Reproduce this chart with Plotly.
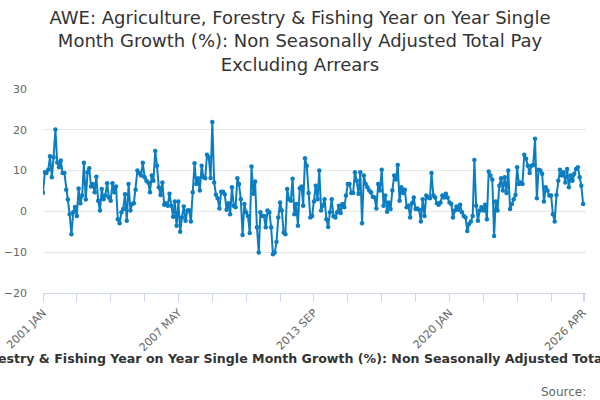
import pandas as pd
import plotly.graph_objects as go

title_text = ("AWE: Agriculture, Forestry & Fishing Year on Year Single<br>"
              "Month Growth (%): Non Seasonally Adjusted Total Pay<br>"
              "Excluding Arrears")
series_name = ("AWE: Agriculture, Forestry & Fishing Year on Year Single Month Growth (%): "
               "Non Seasonally Adjusted Total Pay Excluding Arrears")
start_month = "2001-01-01"

values_2001_2005 = [4.6, 9.6, 9.4, 10.2, 13.5, 8.4, 13.3, 20.1, 12, 10.8, 12.5, 9.4, 9.4, 5.3, 2.9,
                    -0.7, -5.6, -0.2, 1.1, -1.1, 5.6, 2, 3.9, 11.9, 2.9, 9.6, 10.6, 6.1, 6.7, 4.7,
                    8.5, 2.6, 0.2, 5.5, 3, 3.9, 6.9, 3.4, 2.6, 6.9, 4.7, 6.1, -1.9, -2.9, -0.2,
                    0.6, 4.2, -2.3, 6.7]
values_2005_2009 = [0.2, 1.8, 2, 5.3, 10, 9.4, 8.8, 11.9, 8.4, 7.5, 7.1, 4.7, 8.8, 7.5, 14.8, 11.2,
                    5.9, 4, 7.1, 1.6, 2, 1.4, 4.3, 1.4, -1.3, 2.4, -3.5, 2.4, -5, -1.5, 1.2, -2.3,
                    0.2, 0.3, -2.5, 4.7, 11.8, 6.7, 8.1, 5.1, 11.2, 8.4, 8.1, 13.9, 13.3, 8.2,
                    21.9, 7.1, 4.1, 3.2, 0.7]
values_2009_2013 = [4.8, 4.8, 4.2, 0.4, 2.0, -0.7, 5.9, 1.4, 1.0, 8.1, 6.7, 3.0, -5.8, 1.8, -0.2,
                    -1.1, -5.3, 11.0, 4.3, 7.3, -3.9, -10.1, -0.2, -1.1, -1.1, -3.9, 0.2, -0.2,
                    -3.9, -10.5, -10.1, -7.5, -1.5, 2.2, 0.2, -5.2, -5.6, 5.5, 3.0, 2.6, 8.0,
                    -0.7, 1.8, -3.5, 5.7, 6.1, 1.4, 13.0, 11.2, 4.5, -1.5, -1.1, 2.4]
values_2013_2017 = [6.3, 3.0, 10.0, 0.2, 1.4, 3.0, -1.9, -3.8, -0.2, 3.0, -1.2, -1.5, -0.2, 1.4,
                    -0.4, 1.8, 1.0, 3.9, 6.7, 6.7, 4.5, 4.5, 9.6, 7.5, 4.3, 9.6, -2.9, 8.8, 6.7,
                    5.9, 5.1, 4.7, 3.6, 3.4, 0.7, 6.7, 5.1, 10.2, 1.4, 3.9, -0.1, 2.2, 0.6, 5.1,
                    8.8, 7.8, 11.4, 2.6, 5.9, 4.5, 5.3]
values_2018_2022 = [1.0, 1.4, -1.5, 2.0, 3.4, 0.6, 0.7, 0.4, -2.5, 3.0, -1.1, 3.9, 3.4, 3.2, 9.4,
                    3.9, 3.4, 2.0, 1.6, 2.2, 3.9, 3.4, 4.3, 3.4, 2.2, 1.8, -1.5, 0.2, 1.2, 0.4,
                    1.6, -0.2, -1.1, -1.5, -4.8, -3.1, -2.5, -1.1, 12.6, 1.4, -2.3, 0.2, 1.0, 0.2,
                    1.6, -1.9, 9.8, 8.8, 7.8, -6.0]
values_2022_2026 = [2.4, 0.2, 6.3, 8.1, 5.1, 8.4, 4.5, 10.0, 0.6, 1.8, 3.0, 4.0, 10.8, 6.7, 7.1,
                    6.7, 13.9, 12.9, 11.2, 9.4, 11.2, 11.4, 17.8, 3.2, 10.2, 10.0, 9.2, 2.4, 5.9,
                    5.1, 3.9, 3.9, -0.7, -2.5, 4.0, 7.5, 10.2, 8.8, 9.6, 7.1, 10.4, 5.9, 8.8, 7.5,
                    9.2, 10.4, 10.8, 8.4, 6.3, 1.8]

values = (values_2001_2005 + values_2005_2009 + values_2009_2013 +
          values_2013_2017 + values_2018_2022 + values_2022_2026)
months = pd.date_range(start_month, periods=len(values), freq="MS")

label_idx = [0, 76, 152, 228, len(values) - 1]
tick_vals = [months[i] for i in label_idx]
tick_text = [months[i].strftime("%Y %b").upper() for i in label_idx]

y_ticks = [-20, -10, 0, 10, 20, 30]

color = "#0b7dc1"
fig = go.Figure()
fig.add_trace(go.Scatter(
    x=months, y=values, mode="lines+markers",
    line=dict(color=color, width=2),
    marker=dict(color=color, size=4.5),
    name=series_name, showlegend=False,
))

fig.update_layout(
    width=600, height=400,
    margin=dict(l=43, r=14, t=89, b=107),
    paper_bgcolor="white", plot_bgcolor="white",
    font=dict(family="DejaVu Sans", color="#666666"),
    title=dict(text=title_text, x=0.5, xanchor="center", xref="container",
               y=0.94, yanchor="top", yref="container",
               font=dict(family="DejaVu Sans", size=18, color="#333333")),
    xaxis=dict(
        range=[months[0], pd.Timestamp("2026-05-20")],
        tickvals=tick_vals, ticktext=tick_text, tickangle=-45,
        ticks="outside", ticklen=8, tickcolor="#ccd6eb", tickwidth=1,
        minor=dict(dtick="M19", tick0=start_month, ticks="outside", ticklen=8,
                   tickcolor="#ccd6eb", tickwidth=1, showgrid=False),
        showline=True, linecolor="#ccd6eb", linewidth=1,
        showgrid=False, zeroline=False, automargin=False,
        tickfont=dict(size=11, color="#666666"),
    ),
    yaxis=dict(
        range=[-20, 30], tickvals=y_ticks,
        showgrid=True, gridcolor="#e6e6e6", gridwidth=1,
        zeroline=True, zerolinecolor="#e6e6e6", zerolinewidth=1,
        showline=False, ticks="", ticklabelstandoff=15, automargin=False,
        tickfont=dict(size=11, color="#666666"),
    ),
    annotations=[
        dict(text="<b>" + series_name + "</b>", xref="paper", yref="paper",
             x=(306 - 43) / (600 - 43 - 14), y=-0.32, xanchor="center", yanchor="middle",
             showarrow=False, font=dict(family="DejaVu Sans", size=12.6, color="#333333")),
        dict(text="Source:", xref="paper", yref="paper",
             x=(588 - 43) / (600 - 43 - 14), y=-0.485, xanchor="right", yanchor="middle",
             showarrow=False, font=dict(family="DejaVu Sans", size=12, color="#666666")),
    ],
)

fig.write_html("out.html", config={"displayModeBar": False},
               post_script="document.body.style.margin='0';")
